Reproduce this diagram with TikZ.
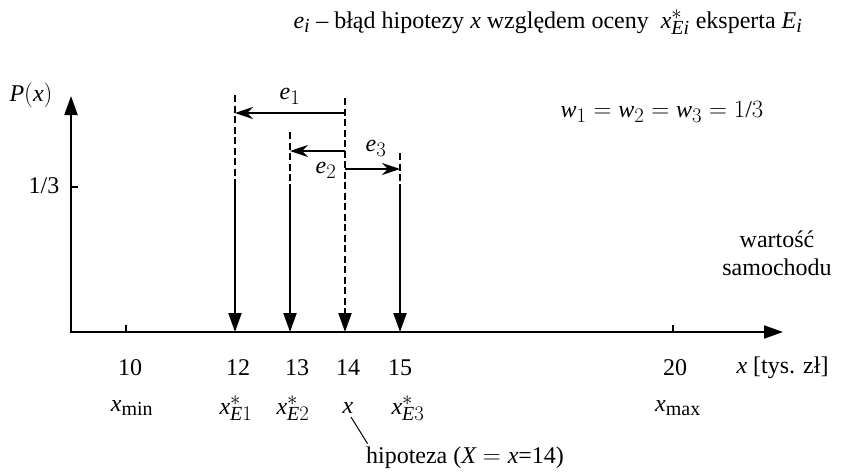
\documentclass[tikz,border=0pt]{standalone}
\usepackage{fontspec}
\setmainfont{Liberation Serif}
\usepackage[italic]{mathastext}
\usetikzlibrary{arrows.meta}

\begin{document}
\begin{tikzpicture}[x=1pt, y=-1pt, font=\fontsize{24}{28}\selectfont,
  axis/.style={line width=2pt, -{Triangle[length=19pt, width=13pt]}},
  spike/.style={line width=2pt, -{Triangle[length=19pt, width=13pt]}},
  guide/.style={line width=2pt, dash pattern=on 7pt off 3.5pt},
  err/.style={line width=1.4pt, -{Stealth[length=18pt, width=12pt, inset=6pt]}},
  tickmark/.style={line width=2pt}]
  \useasboundingbox (0,0) rectangle (842,471);

  % axes
  \coordinate (o) at (71,332);
  \coordinate (ytop) at (71,96);
  \coordinate (xend) at (783,332);
  \draw[axis] (o) -- (ytop);
  \draw[axis] ([xshift=-1pt]o) -- (xend);
  \node (px) at (31,95) {$P(x)$};
  \coordinate (y13) at (71,187);
  \coordinate (y13r) at (78,187);
  \draw[tickmark] (y13) -- (y13r);
  \node (l13) at (44,186) {1/3};

  % ticks xmin, xmax
  \foreach \v/\px in {10/126, 20/673} {
    \coordinate (b\v) at (\px,332);
    \coordinate (k\v) at (\px,325);
    \draw[tickmark] (b\v) -- (k\v);
  }

  % expert estimates and hypothesis
  \foreach \v/\px/\top in {12/235/95, 13/290/132, 14/345/98, 15/400/153} {
    \coordinate (b\v) at (\px,332);
    \coordinate (m\v) at (\px,184);
    \coordinate (t\v) at (\px,\top);
  }
  \foreach \v in {12,13,15} {
    \draw[guide] (t\v) -- (m\v);
    \draw[spike] (m\v) -- (b\v);
  }
  \draw[guide, -{Triangle[length=19pt, width=13pt]}] (t14) -- (b14);

  % errors
  \coordinate (e1s) at (345,113);  \coordinate (e1t) at (235,113);
  \coordinate (e2s) at (345,151);  \coordinate (e2t) at (290,151);
  \coordinate (e3s) at (345,169);  \coordinate (e3t) at (400,169);
  \draw[err] (e1s) -- (e1t);
  \draw[err] (e2s) -- (e2t);
  \draw[err] (e3s) -- (e3t);
  \node (ne1) at (290,96) {$e_1$};
  \node (ne2) at (326,170) {$e_2$};
  \node (ne3) at (376,148) {$e_3$};

  % axis labels
  \node (n10) at (130,368) {10};
  \node (n12) at (238,368) {12};
  \node (n13) at (297,368) {13};
  \node (n14) at (348,368) {14};
  \node (n15) at (400,368) {15};
  \node (n20) at (675,368) {20};
  \node[anchor=west] (unit) at (733,368) {$x$ [tys. zł]};
  \node (xmin) at (132,408) {$x_{\mathrm{min}}$};
  \node (xe1) at (236,408) {$x^*_{E1}$};
  \node (xe2) at (293,408) {$x^*_{E2}$};
  \node (xh) at (348,408) {$x$};
  \node (xe3) at (408,408) {$x^*_{E3}$};
  \node (xmax) at (678,408) {$x_{\mathrm{max}}$};
  \node (hip) at (465,458) {hipoteza ($X = x$=14)};
  \draw[line width=1pt] ([xshift=3pt]xh.south) -- ([xshift=5pt]hip.north west);

  % texts
  \node (title) at (548,22) {$e_i$ -- błąd hipotezy $x$ względem oceny \ $x^*_{Ei}$ eksperta $E_i$};
  \node (wts) at (662,112) {$w_1 = w_2 = w_3 = 1/3$};
  \node[align=center] (val) at (777,253) {wartość\\samochodu};
\end{tikzpicture}
\end{document}
